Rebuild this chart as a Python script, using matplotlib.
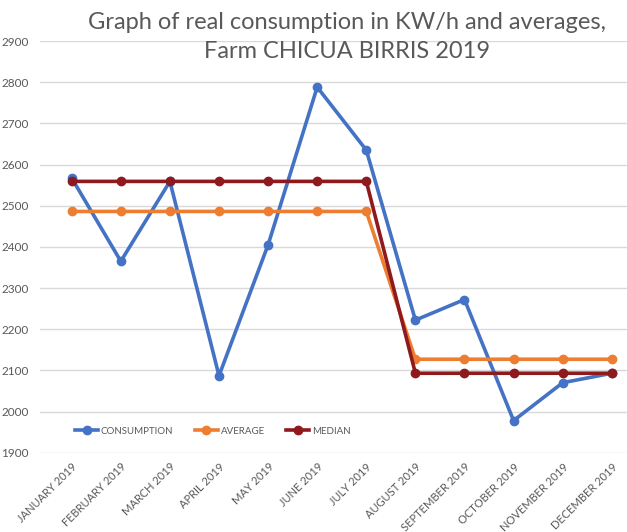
import matplotlib
matplotlib.use("Agg")
import matplotlib.pyplot as plt

months = ["JANUARY 2019", "FEBRUARY 2019", "MARCH 2019", "APRIL 2019", "MAY 2019",
          "JUNE 2019", "JULY 2019", "AUGUST 2019", "SEPTEMBER 2019", "OCTOBER 2019",
          "NOVEMBER 2019", "DECEMBER 2019"]
consumption = [2567, 2365, 2559, 2087, 2405, 2788, 2635, 2222, 2272, 1978, 2070, 2093]
average = [2486, 2486, 2486, 2486, 2486, 2486, 2486, 2127, 2127, 2127, 2127, 2127]
median = [2559, 2559, 2559, 2559, 2559, 2559, 2559, 2093, 2093, 2093, 2093, 2093]
yticks = [1900, 2000, 2100, 2200, 2300, 2400, 2500, 2600, 2700, 2800, 2900]

plt.rcParams['font.family'] = ['Lato', 'DejaVu Sans']
gray = "#595959"

fig = plt.figure(figsize=(6.27, 5.32), dpi=100)
ax = fig.add_axes([40/627, 79.3/532, 1 - 40/627, (452.7 - 41) / 532])

x = list(range(len(months)))
ax.plot(x, consumption, color="#4472C4", lw=2.6, marker="o", ms=6, label="CONSUMPTION", zorder=3)
ax.plot(x, average, color="#ED7D31", lw=2.6, marker="o", ms=6, label="AVERAGE", zorder=3)
ax.plot(x, median, color="#8E1A1E", lw=2.6, marker="o", ms=6, label="MEDIAN", zorder=4)

ax.set_ylim(1900, 2900)
ax.set_xlim(-0.646, 11.31)
ax.set_yticks(yticks)
ax.set_yticklabels([str(v) for v in yticks], fontsize=8.5, color=gray)
ax.set_xticks(x)
ax.set_xticklabels(months, rotation=45, ha="right", rotation_mode="anchor", fontsize=8, color=gray)
ax.tick_params(axis="both", length=0, pad=8)
ax.tick_params(axis="x", pad=6)
ax.grid(axis="y", color="#D9D9D9", lw=1)
ax.set_axisbelow(True)
for s in ax.spines.values():
    s.set_visible(False)

fig.text(0.553, 0.978, "Graph of real consumption in KW/h and averages,\nFarm CHICUA BIRRIS 2019",
         ha="center", va="top", fontsize=17, color=gray, linespacing=1.5)

leg = ax.legend(loc="center left", bbox_to_anchor=(0.045, 0.052), ncol=3, frameon=False,
                fontsize=7, handlelength=2.4, columnspacing=2.2, handletextpad=0.25)
for t in leg.get_texts():
    t.set_color(gray)

fig.savefig("out.png", dpi=100)
